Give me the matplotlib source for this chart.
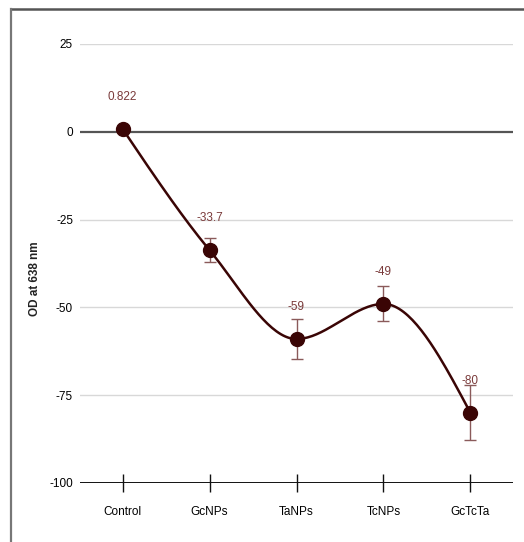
import numpy as np
import matplotlib.pyplot as plt
from matplotlib.lines import Line2D

categories = ['Control', 'GcNPs', 'TaNPs', 'TcNPs', 'GcTcTa']
values = [0.822, -33.7, -59, -49, -80]
errors = [0.0, 3.5, 5.8, 5.0, 7.8]
labels = ['0.822', '-33.7', '-59', '-49', '-80']
yticks = [25, 0, -25, -50, -75, -100]


def monotone_x(x, y, n=40):
    # d3 curveMonotoneX style interpolation
    x = np.asarray(x, float); y = np.asarray(y, float)
    h = np.diff(x); s = np.diff(y) / h
    t = np.zeros(len(x))
    for i in range(1, len(x) - 1):
        p = (s[i-1]*h[i] + s[i]*h[i-1]) / (h[i-1] + h[i])
        t[i] = (np.sign(s[i-1]) + np.sign(s[i])) * min(abs(s[i-1]), abs(s[i]), 0.5*abs(p))
    t[0] = (3*s[0] - t[1]) / 2
    t[-1] = (3*s[-1] - t[-2]) / 2
    xs, ys = [], []
    for i in range(len(x) - 1):
        u = np.linspace(0, 1, n)
        dx = h[i]
        h00 = 2*u**3 - 3*u**2 + 1; h10 = u**3 - 2*u**2 + u
        h01 = -2*u**3 + 3*u**2; h11 = u**3 - u**2
        xs.append(x[i] + u*dx)
        ys.append(h00*y[i] + h10*dx*t[i] + h01*y[i+1] + h11*dx*t[i+1])
    return np.concatenate(xs), np.concatenate(ys)


fig = plt.figure(figsize=(5.24, 5.42), dpi=100)
ax = fig.add_axes([80/524, 59/542, 433/524, 439/542])

xpos = np.arange(len(categories))
cx, cy = monotone_x(xpos, values)

for v in yticks:
    if v == 0:
        ax.axhline(v, color='#555555', lw=1.6, zorder=1)
    elif v == -100:
        ax.axhline(v, color='#111111', lw=1.4, zorder=1)
    else:
        ax.axhline(v, color='#d8d8d8', lw=1.0, zorder=1)

ax.plot(cx, cy, color='#3a0505', lw=1.8, zorder=3)
ax.errorbar(xpos, values, yerr=errors, fmt='none', ecolor='#8a5a5a',
            elinewidth=1.0, capsize=4, capthick=1.0, zorder=2)
ax.plot(xpos, values, 'o', color='#3a0505', markersize=10, zorder=4)

for xi, v, lab in zip(xpos, values, labels):
    ax.annotate(lab, (xi, v), xytext=(0, 23), textcoords='offset points',
                ha='center', va='center', fontsize=8.5, color='#7a3a3a',
                family='Liberation Sans')

ax.set_xlim(-0.49, 4.49)
ax.set_ylim(-100, 25)
ax.set_yticks(yticks)
ax.set_yticklabels([str(v) for v in yticks], family='Liberation Sans', fontsize=8.5)
ax.set_xticks(xpos)
ax.set_xticklabels(categories, family='Liberation Sans', fontsize=8.5)
ax.tick_params(axis='y', length=0, pad=5)
ax.tick_params(axis='x', direction='inout', length=13, width=1.0, color='#111111', pad=10)
for sp in ax.spines.values():
    sp.set_visible(False)

fig.text(35/524, 1 - 279/542, 'OD at 638 nm', rotation=90, ha='center', va='center',
         fontsize=8.5, fontweight='bold', family='Liberation Sans', color='#222222')

# outer frame (top and left)
fig.add_artist(Line2D([11/524, 1], [1 - 9/542, 1 - 9/542], color='#555555', lw=1.8))
fig.add_artist(Line2D([11/524, 11/524], [0, 1 - 9/542], color='#777777', lw=1.6))

fig.savefig('out.png', dpi=100)
